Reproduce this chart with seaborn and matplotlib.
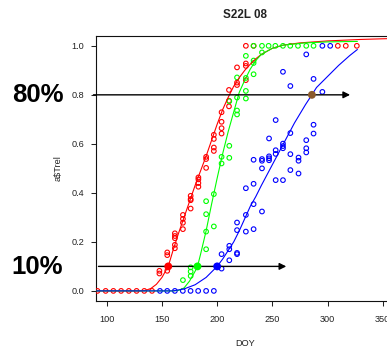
import matplotlib
matplotlib.use("Agg")
import matplotlib.pyplot as plt
import numpy as np
import pandas as pd
import seaborn as sns

# ---------------- data ----------------
red_doy = [91.6, 99, 106, 113, 120, 127, 134, 141,
           147.7, 147.7, 154.8, 154.8, 154.8,
           161.7, 161.7, 161.7, 161.7, 161.7,
           169, 169, 169, 169,
           176, 176, 176, 176,
           183, 183, 183, 183,
           190, 190, 190,
           197, 197, 197, 197,
           204, 204, 204, 204,
           210.7, 210.7, 210.7,
           218, 218, 218,
           226, 226, 226, 226,
           233, 309.3, 316.5, 326.5]
red_val = [0, 0, 0, 0, 0, 0, 0, 0,
           0.082, 0.071, 0.157, 0.146, 0.082,
           0.235, 0.224, 0.215, 0.188, 0.174,
           0.31, 0.294, 0.278, 0.252,
           0.388, 0.375, 0.37, 0.336,
           0.463, 0.455, 0.44, 0.425,
           0.547, 0.538, 0.502,
           0.637, 0.62, 0.585, 0.571,
           0.729, 0.69, 0.664, 0.642,
           0.82, 0.776, 0.753,
           0.912, 0.85, 0.84,
           1.0, 0.928, 0.918, 0.86,
           1.0, 1.0, 1.0, 1.0]

green_doy = [169, 176, 176, 176,
             190, 190, 190, 190,
             197, 197,
             204, 204,
             211, 211, 211,
             218, 218, 218, 218,
             226, 226, 226, 226,
             233, 233, 233, 233,
             240.6, 240.6, 246.6, 252.7, 259.6, 266.2, 273.2, 280.7, 287.3]
green_val = [0.044, 0.096, 0.079, 0.061,
             0.366, 0.313, 0.242, 0.17,
             0.395, 0.263,
             0.547, 0.52,
             0.774, 0.592, 0.543,
             0.871, 0.789, 0.736, 0.72,
             0.959, 0.869, 0.816, 0.785,
             1.0, 0.94, 0.93, 0.884,
             1.0, 0.973, 1.0, 1.0, 1.0, 1.0, 1.0, 1.0, 1.0]

blue_doy = [148.2, 154.8, 161.7, 168.9, 175.9, 182.8, 190, 197,
            204, 204,
            211, 211, 211,
            218, 218, 218, 218,
            226, 226, 226,
            233, 233, 233, 233,
            240.6, 240.6, 240.6, 240.6,
            247, 247, 247, 247,
            253, 253, 253, 253,
            259.6, 259.6, 259.6, 259.6, 259.6,
            266.3, 266.3, 266.3, 266.3,
            273.7, 273.7, 273.7,
            280.7, 280.7, 280.7, 280.7,
            287.3, 287.3, 287.3,
            295.3, 295.3, 302.4]
blue_val = [0, 0, 0, 0, 0, 0, 0, 0,
            0.15, 0.091,
            0.184, 0.17, 0.125,
            0.279, 0.248, 0.155, 0.15,
            0.419, 0.31, 0.242,
            0.535, 0.437, 0.354, 0.252,
            0.538, 0.531, 0.5, 0.324,
            0.622, 0.549, 0.541, 0.533,
            0.697, 0.574, 0.559, 0.452,
            0.894, 0.601, 0.591, 0.582, 0.452,
            0.836, 0.644, 0.558, 0.493,
            0.544, 0.531, 0.479,
            0.965, 0.615, 0.582, 0.565,
            0.865, 0.678, 0.642,
            1.0, 0.812, 1.0]

# fitted curves
red_fit_doy = [91, 130, 135, 140, 145, 150, 155.7, 160, 165, 170, 175, 180, 185, 190, 195,
               200, 205, 210, 215, 220, 225, 230, 235, 240, 250, 260, 275, 300, 330, 360]
red_fit_val = [0, 0, 0.002, 0.01, 0.027, 0.055, 0.10, 0.165, 0.235, 0.30, 0.365, 0.43, 0.49, 0.55,
               0.615, 0.68, 0.74, 0.79, 0.835, 0.87, 0.90, 0.925, 0.947, 0.965, 0.99, 1.003,
               1.012, 1.02, 1.026, 1.03]
green_fit_doy = [91, 160, 165, 170, 175, 180, 182.2, 185, 190, 195, 200, 205, 210, 215, 220,
                 225, 230, 235, 240, 250, 260, 280, 300, 327]
green_fit_val = [0, 0, 0.002, 0.012, 0.04, 0.08, 0.10, 0.15, 0.245, 0.355, 0.46, 0.56, 0.65,
                 0.73, 0.81, 0.86, 0.905, 0.94, 0.965, 0.99, 1.003, 1.012, 1.016, 1.018]
blue_fit_doy = [91, 160, 170, 180, 190, 200, 205, 210, 215, 220, 225, 230, 235, 240, 250,
                260, 270, 280, 285.8, 290, 300, 310, 320, 327]
blue_fit_val = [0, 0, 0.008, 0.025, 0.055, 0.10, 0.13, 0.165, 0.20, 0.245, 0.295, 0.345,
                0.385, 0.43, 0.515, 0.60, 0.685, 0.76, 0.80, 0.83, 0.875, 0.92, 0.96, 0.985]

# threshold dates (filled dots) and arrows
thr10_doy = [155.7, 182.2, 200.0]
thr10_val = [0.1, 0.1, 0.1]
thr80_doy = [285.8]
thr80_val = [0.8]
arrow_levels = [0.1, 0.8]
arrow_start = [92.5, 88.0]
arrow_end = [262.6, 320.4]

x_ticks = [100, 150, 200, 250, 300, 350]
y_ticks = [0.0, 0.2, 0.4, 0.6, 0.8, 1.0]

RED, GREEN, BLUE, BROWN = "#FF0000", "#00FF00", "#0000FF", "#8B5A2B"

# ---------------- figure ----------------
sns.set_style("ticks")
plt.rcParams['font.family'] = ['Liberation Sans', 'DejaVu Sans']

fig = plt.figure(figsize=(3.87, 3.48), dpi=100)
ax = fig.add_axes([0.2473, 0.1359, 0.7703, 0.7606])

for doy, val, col in [(red_doy, red_val, RED), (green_doy, green_val, GREEN), (blue_doy, blue_val, BLUE)]:
    sns.scatterplot(x=doy, y=val, ax=ax, marker="o", s=11, facecolor="none",
                    edgecolor=col, linewidth=0.8, zorder=3, legend=False)

for doy, val, col in [(red_fit_doy, red_fit_val, RED), (green_fit_doy, green_fit_val, GREEN),
                      (blue_fit_doy, blue_fit_val, BLUE)]:
    sns.lineplot(x=doy, y=val, ax=ax, color=col, linewidth=0.8, sort=False,
                 estimator=None, zorder=4, legend=False)

for lvl, x0, x1 in zip(arrow_levels, arrow_start, arrow_end):
    ax.annotate("", xy=(x1, lvl), xytext=(x0, lvl), annotation_clip=False,
                arrowprops=dict(arrowstyle="-|>", color="black", lw=1.0,
                                mutation_scale=10, shrinkA=0, shrinkB=0), zorder=5)

sns.scatterplot(x=thr10_doy, y=thr10_val, hue=["r", "g", "b"],
                palette={"r": RED, "g": GREEN, "b": BLUE}, ax=ax, s=32,
                edgecolor="none", zorder=6, legend=False)
sns.scatterplot(x=thr80_doy, y=thr80_val, ax=ax, s=32, color=BROWN,
                edgecolor="none", zorder=6, legend=False)

ax.set_xlim(90, 360)
ax.set_ylim(-0.04, 1.04)
ax.set_xticks(x_ticks)
ax.set_xticklabels([str(t) for t in x_ticks])
ax.set_yticks(y_ticks)
ax.set_yticklabels([f"{t:.1f}" for t in y_ticks])
ax.set_xlabel("")
ax.set_ylabel("")
ax.tick_params(axis="both", direction="out", length=3.6, width=0.75,
               labelsize=6.6, labelcolor="#222222", color="#222222")
ax.tick_params(axis="x", pad=6.8)
ax.tick_params(axis="y", pad=4.8)
for sp in ["left", "bottom", "top", "right"]:
    ax.spines[sp].set_linewidth(0.8)
    ax.spines[sp].set_color("#111111")

fig.text(0.633, 0.949, "S22L 08", ha="center", va="baseline", fontsize=8.4,
         fontweight="bold", color="#222222")
fig.text(0.633, 0.005, "DOY", ha="center", va="baseline", fontsize=6.6, color="#222222")
fig.text(0.15, 0.517, "a$Trel", ha="center", va="center", rotation=90,
         fontsize=6.6, color="#222222", usetex=False, parse_math=False)
fig.text(0.097, 0.7078, "80%", ha="center", va="baseline", fontsize=18.5,
         fontweight="bold", color="black")
fig.text(0.097, 0.2118, "10%", ha="center", va="baseline", fontsize=18.5,
         fontweight="bold", color="black")

fig.savefig("out.png", dpi=100)
